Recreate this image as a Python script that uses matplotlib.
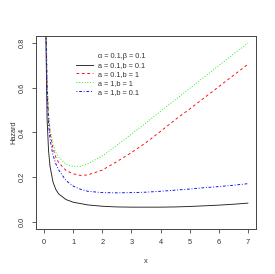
import matplotlib
matplotlib.use("Agg")
import matplotlib.pyplot as plt
from matplotlib.lines import Line2D

plt.rcParams["font.family"] = ["Liberation Sans", "DejaVu Sans"]

# values
x = [0.05, 0.1, 0.15, 0.2, 0.3, 0.4, 0.5, 0.75, 1, 1.25, 1.5, 2, 2.5,
     3, 3.5, 4, 4.5, 5, 5.5, 6, 6.5, 7]
h_black = [0.90, 0.46, 0.32, 0.25, 0.18, 0.145, 0.125, 0.100, 0.088, 0.082, 0.076,
           0.070, 0.067, 0.066, 0.066, 0.066, 0.067, 0.069, 0.072, 0.075, 0.079, 0.084]
h_red = [1.00, 0.62, 0.47, 0.40, 0.33, 0.29, 0.265, 0.230, 0.215, 0.208, 0.210,
         0.232, 0.270, 0.310, 0.355, 0.405, 0.457, 0.505, 0.555, 0.605, 0.655, 0.705]
h_green = [1.00, 0.64, 0.49, 0.42, 0.35, 0.31, 0.290, 0.258, 0.248, 0.249, 0.260,
           0.295, 0.343, 0.393, 0.443, 0.495, 0.546, 0.597, 0.648, 0.699, 0.750, 0.800]
h_blue = [0.95, 0.58, 0.44, 0.37, 0.30, 0.26, 0.232, 0.185, 0.160, 0.146, 0.137,
          0.131, 0.130, 0.131, 0.133, 0.137, 0.142, 0.147, 0.153, 0.158, 0.164, 0.171]
labels = ["a = 0.1,b = 0.1", "a = 0.1,b = 1", "a = 1,b = 1", "a = 1,b = 0.1"]
series = [h_black, h_red, h_green, h_blue]
colors = ["#222222", "#FF0000", "#00EE00", "#0000FF"]
styles = ["-", (0, (3, 3)), (0, (1, 2)), (0, (1, 2, 3, 2))]

fs = 5.3
txt = "#333333"
fig = plt.figure(figsize=(2.75, 2.74), dpi=100)
ax = fig.add_axes([0.131, 0.164, 0.8, 0.705])

for y, c, ls, lab in zip(series, colors, styles, labels):
    ax.plot(x, y, color=c, lw=0.65, ls=ls, label=lab)

ax.set_xlim(-0.28, 7.28)
ax.set_ylim(-0.032, 0.832)
ax.set_xticks(range(8))
ax.set_yticks([0, 0.2, 0.4, 0.6, 0.8])
ax.set_yticklabels(["0.0", "0.2", "0.4", "0.6", "0.8"], rotation=90, va="center")
ax.tick_params(labelsize=fs, length=3, width=0.6, color="#444444", labelcolor=txt)
ax.tick_params(axis="x", pad=4)
ax.tick_params(axis="y", pad=4.5)
for s in ax.spines.values():
    s.set_linewidth(0.7)
    s.set_color("#444444")

ax.set_xlabel("x", fontsize=fs, color=txt, labelpad=9)
ax.set_ylabel("Hazard", fontsize=fs, color=txt, labelpad=1)

handles = [Line2D([], [], color="none")]
handles += [Line2D([], [], color=c, lw=0.65, ls=ls) for c, ls in zip(colors, styles)]
leg = ax.legend(handles, ["\u03b1 = 0.1,\u03b2 = 0.1"] + labels,
                loc="upper left", bbox_to_anchor=(0.17, 0.925), frameon=False,
                fontsize=fs, handlelength=2.2, handletextpad=0.8,
                labelspacing=0.22, borderaxespad=0, borderpad=0.4)
for t in leg.get_texts():
    t.set_color(txt)

fig.savefig("out.png", dpi=100)
